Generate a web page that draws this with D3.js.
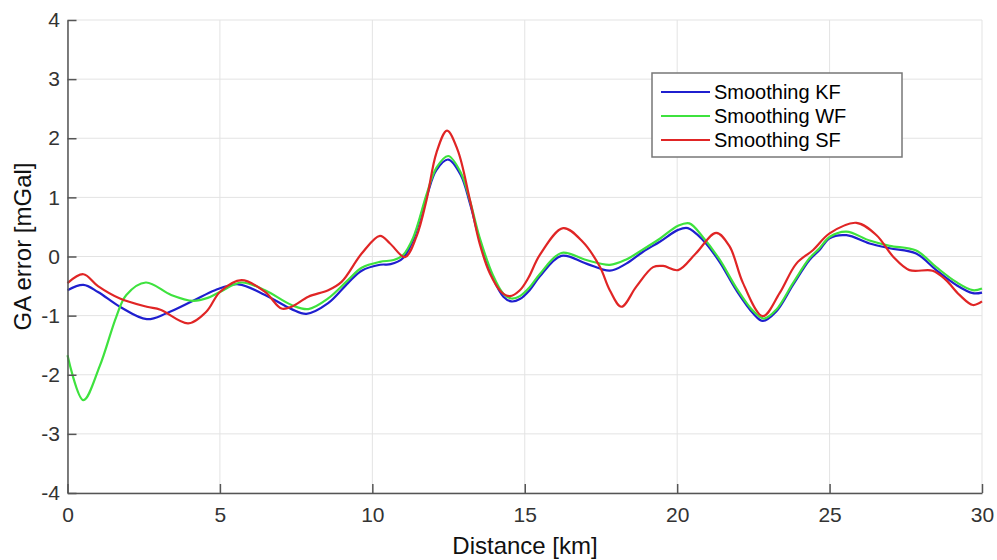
<!DOCTYPE html>
<html>
<head>
<meta charset="utf-8">
<script src="https://cdn.jsdelivr.net/npm/d3@7"></script>
<style>
  html, body { margin: 0; padding: 0; background: #fff; }
  svg { display: block; font-family: "Liberation Sans", Arial, sans-serif; }
</style>
</head>
<body>
<svg id="chart" width="997" height="560"></svg>
<script>
// ---- data ----
const xTicks = [0, 5, 10, 15, 20, 25, 30];
const yTicks = [-4, -3, -2, -1, 0, 1, 2, 3, 4];
const seriesNames = ["Smoothing KF", "Smoothing WF", "Smoothing SF"];

const kfDist = [0, 0.52, 1.0, 1.72, 2.6, 3.25, 4.12, 4.84, 5.6, 6.48, 7.35, 7.84, 8.55, 9.2, 9.65, 10.25, 10.6, 11.0, 11.34, 11.78, 12.1, 12.49, 12.9, 13.2, 13.52, 13.96, 14.3, 14.56, 14.84, 15.16, 15.49, 16.2, 17.02, 17.79, 18.33, 18.88, 19.43, 20.03, 20.35, 20.84, 21.39, 21.94, 22.49, 22.81, 23.25, 23.8, 24.34, 24.67, 25.0, 25.55, 26.31, 26.97, 27.84, 28.5, 29.15, 29.7, 30];
const kfVal  = [-0.57, -0.48, -0.6, -0.85, -1.06, -0.96, -0.75, -0.57, -0.47, -0.65, -0.89, -0.97, -0.79, -0.45, -0.24, -0.14, -0.13, -0.03, 0.28, 1.01, 1.46, 1.64, 1.38, 0.90, 0.28, -0.37, -0.68, -0.76, -0.72, -0.57, -0.34, 0.01, -0.12, -0.24, -0.12, 0.08, 0.25, 0.45, 0.48, 0.28, -0.09, -0.57, -0.96, -1.09, -0.93, -0.48, -0.06, 0.11, 0.31, 0.36, 0.22, 0.14, 0.05, -0.23, -0.48, -0.62, -0.61];

const wfDist = [0, 0.52, 1.06, 1.6, 1.93, 2.57, 3.4, 4.12, 4.6, 5.0, 5.7, 6.48, 7.35, 7.9, 8.55, 9.2, 9.65, 10.25, 10.7, 11.0, 11.34, 11.78, 12.1, 12.49, 12.9, 13.2, 13.52, 13.96, 14.3, 14.56, 14.84, 15.16, 15.49, 16.2, 17.02, 17.79, 18.33, 18.88, 19.43, 20.03, 20.4, 20.84, 21.39, 21.94, 22.49, 22.85, 23.25, 23.8, 24.34, 24.67, 25.0, 25.55, 26.31, 26.97, 27.84, 28.5, 29.15, 29.7, 30];
const wfVal  = [-1.67, -2.43, -1.85, -1.02, -0.65, -0.44, -0.65, -0.75, -0.70, -0.6, -0.44, -0.57, -0.82, -0.89, -0.71, -0.40, -0.19, -0.09, -0.06, 0.02, 0.32, 1.05, 1.5, 1.70, 1.42, 0.95, 0.32, -0.32, -0.63, -0.71, -0.67, -0.52, -0.30, 0.06, -0.06, -0.14, -0.05, 0.12, 0.30, 0.52, 0.56, 0.33, -0.05, -0.53, -0.92, -1.05, -0.9, -0.45, -0.03, 0.14, 0.33, 0.42, 0.27, 0.18, 0.10, -0.18, -0.43, -0.57, -0.54];

const sfDist = [0, 0.52, 1.0, 1.72, 2.6, 3.05, 3.96, 4.56, 5.0, 5.71, 6.48, 7.02, 7.35, 7.9, 8.55, 8.99, 9.65, 10.25, 10.58, 11.07, 11.45, 11.78, 12.1, 12.45, 12.8, 13.2, 13.52, 13.85, 14.23, 14.51, 14.84, 15.12, 15.5, 16.26, 16.9, 17.46, 17.79, 18.17, 18.66, 19.21, 19.54, 20.03, 20.61, 21.28, 21.72, 22.16, 22.81, 23.36, 23.91, 24.46, 25.0, 25.88, 26.54, 27.08, 27.62, 28.38, 28.82, 29.26, 29.7, 30];
const sfVal  = [-0.45, -0.30, -0.5, -0.71, -0.85, -0.9, -1.13, -0.93, -0.6, -0.40, -0.6, -0.88, -0.85, -0.68, -0.57, -0.43, 0.05, 0.35, 0.22, -0.01, 0.34, 0.96, 1.75, 2.13, 1.80, 0.96, 0.22, -0.28, -0.60, -0.67, -0.57, -0.36, 0.03, 0.48, 0.25, -0.17, -0.57, -0.85, -0.51, -0.18, -0.16, -0.23, 0.05, 0.40, 0.17, -0.45, -1.01, -0.62, -0.12, 0.11, 0.39, 0.57, 0.36, 0.0, -0.23, -0.24, -0.40, -0.65, -0.82, -0.76];

const seriesColors = ["#1f1fcf", "#3ee23e", "#e02525"];

// ---- chart ----
const svg = d3.select("#chart");
const x = d3.scaleLinear().domain([0, 30]).range([67.5, 982]);
const y = d3.scaleLinear().domain([-4, 4]).range([493, 20]);

// grid
const grid = svg.append("g").attr("stroke", "#e3e3e3").attr("stroke-width", 1);
grid.selectAll("line.v").data(xTicks).join("line")
  .attr("x1", d => x(d)).attr("x2", d => x(d)).attr("y1", y(-4)).attr("y2", y(4));
grid.selectAll("line.h").data(yTicks).join("line")
  .attr("x1", x(0)).attr("x2", x(30)).attr("y1", d => y(d)).attr("y2", d => y(d));

// series
const data = [
  kfDist.map((d, i) => [d, kfVal[i]]),
  wfDist.map((d, i) => [d, wfVal[i]]),
  sfDist.map((d, i) => [d, sfVal[i]])
];
const line = d3.line().x(d => x(d[0])).y(d => y(d[1])).curve(d3.curveCatmullRom.alpha(0.5));
svg.append("g").selectAll("path").data(data).join("path")
  .attr("d", line)
  .attr("fill", "none")
  .attr("stroke", (d, i) => seriesColors[i])
  .attr("stroke-width", 2.2)
  .attr("stroke-linejoin", "round");

// axes
const axisColor = "#555";
const fmt = d => String(d);
const gx = svg.append("g").attr("transform", `translate(0,${y(-4)})`)
  .call(d3.axisBottom(x).tickValues(xTicks).tickFormat(fmt).tickSizeInner(-9).tickSizeOuter(0).tickPadding(14));
const gy = svg.append("g").attr("transform", `translate(${x(0)},0)`)
  .call(d3.axisLeft(y).tickValues(yTicks).tickFormat(fmt).tickSizeInner(-9).tickSizeOuter(0).tickPadding(7.5));
[gx, gy].forEach(g => {
  g.select(".domain").attr("stroke", axisColor).attr("stroke-width", 1.5);
  g.selectAll(".tick line").attr("stroke", axisColor).attr("stroke-width", 1.5);
  g.selectAll(".tick text").attr("fill", "#333").attr("font-size", 21)
    .attr("font-family", "'Liberation Sans', Arial, sans-serif");
});

// axis labels
svg.append("text")
  .attr("x", 525).attr("y", 554)
  .attr("text-anchor", "middle")
  .attr("font-size", 24).attr("fill", "#111")
  .text("Distance [km]");
svg.append("text")
  .attr("transform", "translate(31,246.5) rotate(-90)")
  .attr("text-anchor", "middle")
  .attr("font-size", 24).attr("fill", "#111")
  .text("GA error [mGal]");

// legend
const leg = svg.append("g");
leg.append("rect")
  .attr("x", 652).attr("y", 73).attr("width", 250).attr("height", 84)
  .attr("fill", "#fff").attr("stroke", "#777").attr("stroke-width", 1.5);
const rows = leg.selectAll("g.row").data(seriesNames).join("g")
  .attr("transform", (d, i) => `translate(0,${92 + i * 24})`);
rows.append("line")
  .attr("x1", 661).attr("x2", 710).attr("y1", 0).attr("y2", 0)
  .attr("stroke", (d, i) => seriesColors[i]).attr("stroke-width", 2.2);
rows.append("text")
  .attr("x", 714).attr("y", 7)
  .attr("font-size", 20).attr("fill", "#000")
  .text(d => d);
</script>
</body>
</html>
